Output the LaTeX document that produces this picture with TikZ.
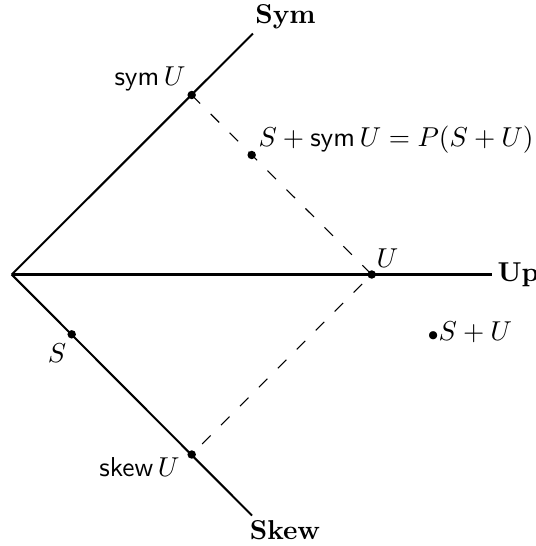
\documentclass[tikz,border=0pt]{standalone}
\begin{document}
\begin{tikzpicture}[x=0.366pt,y=-0.366pt,
  axis/.style={line width=0.75pt},
  proj/.style={line width=0.4pt,dash pattern=on 4.4pt off 5.4pt},
  dot/.style={circle,fill=black,inner sep=0pt,minimum size=3.1pt},
  lbl/.style={inner sep=0pt}]
\useasboundingbox (0,0) rectangle (536,546);
\coordinate (O) at (11.7,274.5);
\coordinate (symEnd) at (253,33.5);
\coordinate (skewEnd) at (252,515.5);
\coordinate (upEnd) at (492,274.5);
\draw[axis] (O) -- (symEnd);
\draw[axis] (O) -- (skewEnd);
\draw[axis] (O) -- (upEnd);
\node[dot] (symU) at (191.7,95) {};
\node[dot] (U) at (371.7,274.5) {};
\node[dot] (skewU) at (191.7,454.5) {};
\node[dot] (S) at (71.7,334.3) {};
\node[dot] (SP) at (251.7,155) {};
\draw[proj] (symU.center) -- (U.center) -- (skewU.center);
\node[lbl] (symlab) at (285.5,17) {\textbf{Sym}};
\node[lbl] (skewlab) at (285,530) {\textbf{Skew}};
\node[lbl,anchor=base west] (uplab) at (497,281) {\textbf{Up}};
\node[lbl,anchor=base east] (symUlab) at (186,85) {$\textsf{sym}\,U$};
\node[lbl,anchor=base west] (SPlab) at (258,146) {$S+\textsf{sym}\,U=P(S+U)$};
\node[lbl,anchor=base west] (Ulab) at (376,267) {$U$};
\node[lbl,anchor=base west] (SUlab) at (427,340) {$\scriptstyle\bullet\displaystyle S+U$};
\node[lbl] (Slab) at (57,353) {$S$};
\node[lbl,anchor=base east] (skewUlab) at (180,476) {$\textsf{skew}\,U$};
\end{tikzpicture}
\end{document}
